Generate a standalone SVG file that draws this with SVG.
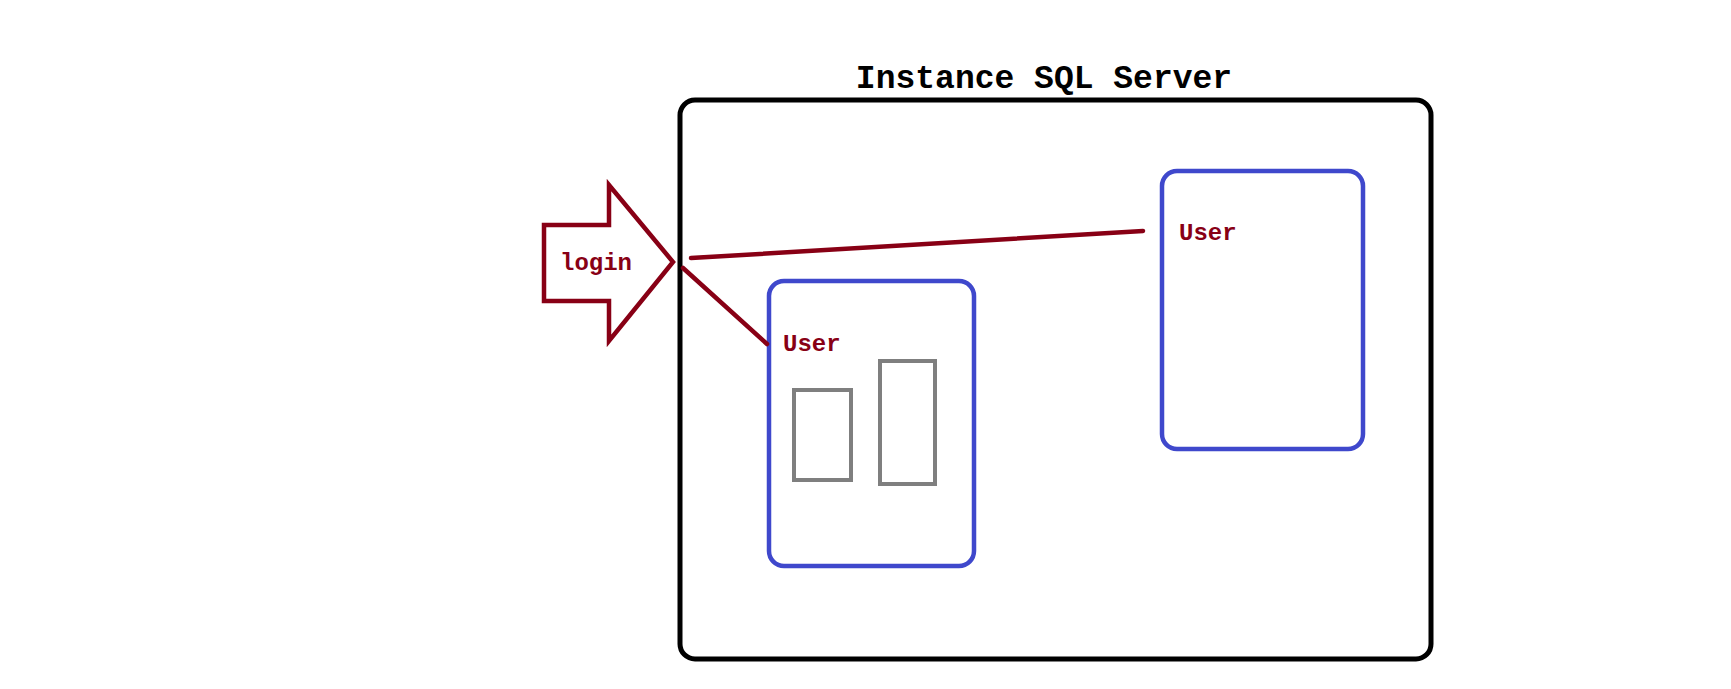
<svg xmlns="http://www.w3.org/2000/svg" width="1731" height="689" viewBox="0 0 1731 689">
  <style>
    .lbl { font-family: "Liberation Mono", "DejaVu Sans Mono", monospace; font-weight: bold; fill: #880015; }
    .title { font-family: "Liberation Mono", "DejaVu Sans Mono", monospace; font-weight: bold; fill: #000000; font-size: 33px; }
    .user { fill: none; stroke: #3F48CC; stroke-width: 4.5; }
    .obj { fill: none; stroke: #7F7F7F; stroke-width: 4; }
    .conn { stroke: #880015; stroke-width: 4.5; fill: none; stroke-linecap: round; }
  </style>
  <rect width="1731" height="689" fill="#ffffff"/>
  <g id="instance">
    <rect x="680" y="100" width="751" height="559" rx="15" ry="15" fill="none" stroke="#000000" stroke-width="5"/>
    <text class="title" x="1044" y="88" text-anchor="middle">Instance SQL Server</text>
  </g>
  <g id="login">
    <polygon points="544,225 609,225 609,185 673,262 609,341 609,301 544,301" fill="#ffffff" stroke="#880015" stroke-width="4.5" stroke-linejoin="miter"/>
    <text class="lbl" x="560" y="270" font-size="24">login</text>
  </g>
  <g id="user1">
    <rect class="user" x="769" y="281" width="205" height="285" rx="15" ry="15"/>
    <text class="lbl" x="783" y="351" font-size="24">User</text>
    <rect class="obj" x="794" y="390" width="57" height="90"/>
    <rect class="obj" x="880" y="361" width="55" height="123"/>
  </g>
  <g id="user2">
    <rect class="user" x="1162" y="171" width="201" height="278" rx="15" ry="15"/>
    <text class="lbl" x="1179" y="240" font-size="24">User</text>
  </g>
  <g id="connectors">
    <line class="conn" x1="691" y1="258" x2="1143" y2="231"/>
    <line class="conn" x1="683" y1="268" x2="767" y2="344"/>
  </g>
</svg>
